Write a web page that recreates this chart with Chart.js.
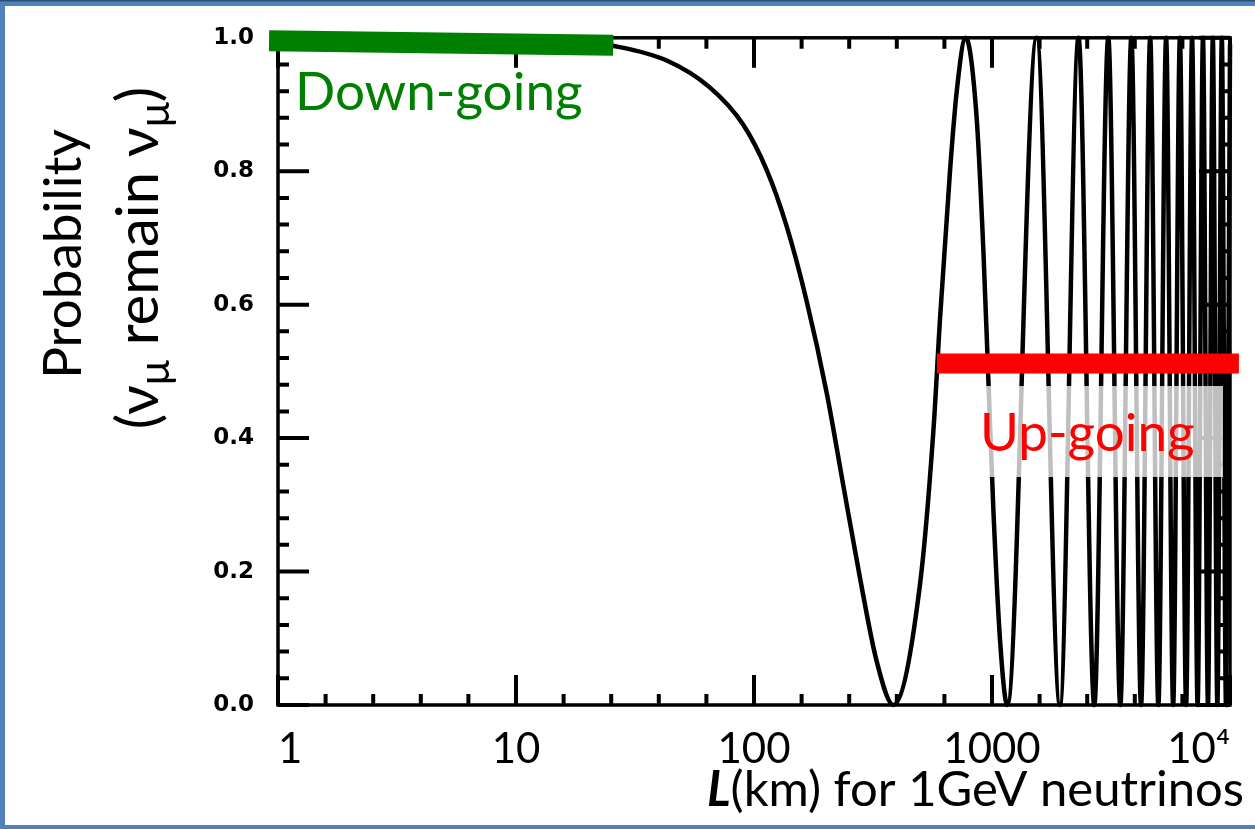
<!DOCTYPE html>
<html>
<head>
<meta charset="utf-8">
<title>Probability (numu remain numu) vs L</title>
<script src="https://cdn.jsdelivr.net/npm/chart.js@4.4.1/dist/chart.umd.min.js"></script>
<style>
  html, body { margin: 0; padding: 0; background: #fff; }
  #wrap { position: relative; width: 1255px; height: 829px; }
</style>
</head>
<body>
<div id="wrap"><canvas id="chart"></canvas></div>
<script>
// curve (L in km, survival probability)
const distanceKm = [1, 5, 10, 18, 25.6, 43, 65, 90, 113, 137, 166, 202, 237, 279, 328, 385,
  498, 567, 605, 666, 711, 775, 862, 919, 965, 1013, 1081, 1160,
  1540, 1930, 2310, 2690, 3080, 3460, 3850, 4230, 4620, 5000, 5390, 5770,
  6160, 6540, 6930, 7310, 7700, 8080, 8470, 8850, 9240, 9620, 10000];
const survivalProb = [1.0, 0.9996, 0.998, 0.995, 0.988, 0.966, 0.926, 0.87, 0.802, 0.718, 0.607, 0.468, 0.33, 0.19, 0.065, 0.0,
  0.18, 0.41, 0.58, 0.8, 0.92, 1.0, 0.88, 0.685, 0.49, 0.294, 0.097, 0.0,
  1.0, 0.0, 1.0, 0.0, 1.0, 0.0, 1.0, 0.0, 1.0, 0.0, 1.0, 0.0,
  1.0, 0.0, 1.0, 0.0, 1.0, 0.0, 1.0, 0.0, 1.0, 0.0, 0.99];

// the two highlight bars
const downBarKm = [0.917, 25.6];
const downBarProb = [0.9955, 0.989];
const upBarKm = [587, 10900];
const upBarProb = [0.512, 0.512];

// axes
const xMajorTicks = [1, 10, 100, 1000, 10000];
const xTickLabels = ["1", "10", "100", "1000", "10\u2074"];
const xMinorSteps = [0.2, 0.4, 0.6, 0.8];
const yMajorTicks = [0, 0.2, 0.4, 0.6, 0.8, 1.0];
const yMinorStep = 0.04;

const toPoints = (xs, ys) => xs.map((v, i) => ({ x: v, y: ys[i] }));

// draws several font runs on one baseline
function drawRuns(ctx, runs, x, y, align) {
  let w = 0;
  runs.forEach((r) => {
    ctx.font = r.font;
    r.w = ctx.measureText(r.t).width;
    w += r.w;
  });
  let cx = align === "center" ? x - w / 2 : align === "right" ? x - w : x;
  runs.forEach((r) => {
    ctx.font = r.font;
    ctx.fillText(r.t, cx, y + (r.dy || 0));
    cx += r.w;
  });
}

const frameTicks = {
  id: "frameTicks",
  beforeDatasetsDraw(chart) {
    const { ctx, chartArea: a, scales } = chart;
    const x = scales.x, y = scales.y;
    ctx.save();
    ctx.strokeStyle = "#000";
    ctx.lineWidth = 3.5;
    ctx.strokeRect(a.left, a.top, a.right - a.left, a.bottom - a.top);

    ctx.lineWidth = 4;
    ctx.beginPath();
    const xt = (v, len) => {
      const p = x.getPixelForValue(v);
      ctx.moveTo(p, a.bottom); ctx.lineTo(p, a.bottom - len);
      ctx.moveTo(p, a.top); ctx.lineTo(p, a.top + len);
    };
    const yt = (v, len) => {
      const p = y.getPixelForValue(v);
      ctx.moveTo(a.left, p); ctx.lineTo(a.left + len, p);
      ctx.moveTo(a.right, p); ctx.lineTo(a.right - len, p);
    };
    xMajorTicks.forEach((v, i) => {
      xt(v, 30);
      if (i < xMajorTicks.length - 1) xMinorSteps.forEach((f) => xt(v * Math.pow(10, f), 11));
    });
    yMajorTicks.forEach((v) => yt(v, 31));
    for (let v = 0; v < 1; v += yMinorStep) yt(v, 11);
    ctx.stroke();
    ctx.restore();
  },
};

const annotations = {
  id: "annotations",
  afterDraw(chart) {
    const ctx = chart.ctx;
    ctx.save();
    ctx.textBaseline = "alphabetic";

    ctx.fillStyle = "rgba(255,255,255,0.75)";
    ctx.fillRect(962, 386, 261, 91);

    ctx.font = "53px Lato";
    ctx.fillStyle = "#008000";
    ctx.fillText("Down-going", 295, 110);
    ctx.fillStyle = "#ff0000";
    ctx.fillText("Up-going", 980, 451);

    ctx.fillStyle = "#000";
    drawRuns(ctx, [
      { t: "L", font: "italic bold 49px Lato" },
      { t: "(km) for 1GeV neutrinos", font: "49px Lato" },
    ], 1244, 806, "right");

    ctx.save();
    ctx.translate(81, 254);
    ctx.rotate(-Math.PI / 2);
    drawRuns(ctx, [{ t: "Probability", font: "53px Lato" }], 0, 0, "center");
    ctx.restore();

    ctx.save();
    ctx.translate(158, 258);
    ctx.rotate(-Math.PI / 2);
    drawRuns(ctx, [
      { t: "(\u03bd", font: "58px Lato" },
      { t: "\u03bc", font: "42px Lato", dy: 11 },
      { t: " remain \u03bd", font: "58px Lato" },
      { t: "\u03bc", font: "42px Lato", dy: 11 },
      { t: ")", font: "58px Lato" },
    ], 0, 0, "center");
    ctx.restore();

    // slide border
    ctx.fillStyle = "#4f81bd";
    ctx.fillRect(0, 0, 1255, 6);
    ctx.fillRect(0, 0, 5, 829);
    ctx.fillRect(0, 825, 1255, 4);
    ctx.fillStyle = "#2f4f7a";
    ctx.fillRect(0, 0, 1255, 1.5);
    ctx.restore();
  },
};

new Chart(document.getElementById("chart"), {
  type: "line",
  data: {
    datasets: [
      {
        label: "P(numu -> numu)",
        data: toPoints(distanceKm, survivalProb),
        borderColor: "#000",
        borderWidth: 4.5,
        pointRadius: 0,
        cubicInterpolationMode: "monotone",
        clip: 3,
        order: 2,
      },
      {
        label: "Down-going",
        data: toPoints(downBarKm, downBarProb),
        borderColor: "#008000",
        borderWidth: 21,
        borderCapStyle: "butt",
        pointRadius: 0,
        clip: false,
        order: 1,
      },
      {
        label: "Up-going",
        data: toPoints(upBarKm, upBarProb),
        borderColor: "#ff0000",
        borderWidth: 20,
        borderCapStyle: "butt",
        pointRadius: 0,
        clip: false,
        order: 1,
      },
    ],
  },
  options: {
    responsive: true,
    maintainAspectRatio: false,
    animation: false,
    layout: { padding: { left: 0, right: 25, top: 37, bottom: 0 } },
    plugins: { legend: { display: false }, tooltip: { enabled: false } },
    scales: {
      x: {
        type: "logarithmic",
        min: 1,
        max: 10000,
        grid: { display: false, drawTicks: false },
        border: { display: false },
        afterBuildTicks: (s) => { s.ticks = xMajorTicks.map((v) => ({ value: v })); },
        afterFit: (s) => { s.height = 124; },
        ticks: {
          autoSkip: false,
          maxRotation: 0,
          align: "inner",
          padding: 19,
          color: "#000",
          font: { family: "Lato", size: 42 },
          callback: (v, i) => xTickLabels[i],
        },
      },
      y: {
        min: 0,
        max: 1,
        grid: { display: false, drawTicks: false },
        border: { display: false },
        afterFit: (s) => { s.width = 278; },
        ticks: {
          stepSize: 0.2,
          padding: 24,
          color: "#000",
          font: { family: "'DejaVu Sans', sans-serif", size: 23, weight: "bold" },
          callback: (v) => v.toFixed(1),
        },
      },
    },
  },
  plugins: [frameTicks, annotations],
});
</script>
</body>
</html>
